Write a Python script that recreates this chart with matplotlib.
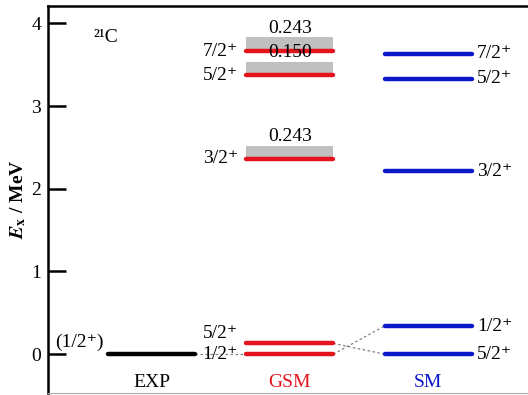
import matplotlib.pyplot as plt
from matplotlib.patches import Rectangle

plt.rcParams["font.family"] = ["Liberation Serif", "DejaVu Serif"]
plt.rcParams["mathtext.fontset"] = "stix"

# ==========================
# Dados (MeV)
# ==========================
columns = ["EXP", "GSM", "SM"]
column_colors = ["black", "#e3141b", "#0a18c8"]

exp_levels = [0.0]
exp_labels = ["(1/2⁺)"]

gsm_levels = [0.0, 0.13, 2.36, 3.37, 3.66]
gsm_labels = ["1/2⁺", "5/2⁺", "3/2⁺", "5/2⁺", "7/2⁺"]
gsm_widths = [None, None, 0.243, 0.150, 0.243]
gsm_band = [0.0, 0.0, 0.16, 0.16, 0.17]

sm_levels = [0.0, 0.34, 2.21, 3.33, 3.63]
sm_labels = ["5/2⁺", "1/2⁺", "3/2⁺", "5/2⁺", "7/2⁺"]

# ligações entre estados (coluna, índice) -> (coluna, índice)
links = [((0, 0), (1, 0)), ((1, 0), (2, 1)), ((1, 1), (2, 0))]

half = 0.315
fs = 14


def main():
    fig = plt.figure(figsize=(5.28, 3.95), dpi=100)
    ax = fig.add_axes([0.091, 0.005, 0.909, 0.98])

    levels = [exp_levels, gsm_levels, sm_levels]

    # bandas de largura (GSM)
    for e, w, h in zip(gsm_levels, gsm_widths, gsm_band):
        if w is None:
            continue
        ax.add_patch(Rectangle((1 - half, e), 2 * half, h, color="#c0c0c0", lw=0, zorder=1))
        ax.text(1, e + h + 0.01, f"{w:.3f}", ha="center", va="bottom", fontsize=fs, zorder=4)

    # níveis
    for i, lev in enumerate(levels):
        for e in lev:
            ax.plot([i - half, i + half], [e, e], color=column_colors[i], lw=3.2,
                    solid_capstyle="round", zorder=3)
        ax.text(i, -0.34, columns[i], ha="center", va="center", fontsize=fs,
                color=column_colors[i])

    # linhas pontilhadas
    for (c1, k1), (c2, k2) in links:
        ax.plot([c1 + half, c2 - half], [levels[c1][k1], levels[c2][k2]],
                color="#808080", ls=(0, (2, 2)), lw=0.9, zorder=2)

    # rótulos
    ax.text(-half - 0.03, exp_levels[0] + 0.14, exp_labels[0], ha="right", va="center", fontsize=fs)
    for k, (e, lab) in enumerate(zip(gsm_levels, gsm_labels)):
        y = e + 0.12 if k == 1 else e
        ax.text(1 - half - 0.06, y, lab, ha="right", va="center", fontsize=fs)
    for e, lab in zip(sm_levels, sm_labels):
        ax.text(2 + half + 0.04, e, lab, ha="left", va="center", fontsize=fs)

    ax.text(-0.42, 3.83, "²¹C", ha="left", va="center", fontsize=fs)

    ax.set_xlim(-0.747, 2.722)
    ax.set_ylim(-0.47, 4.21)
    ax.set_xticks([])
    ax.set_yticks([0, 1, 2, 3, 4])
    ax.tick_params(axis="y", direction="in", length=13, width=1.8, labelsize=fs, pad=5)
    ax.spines["right"].set_visible(False)
    ax.spines["left"].set_linewidth(1.8)
    ax.spines["top"].set_linewidth(1.8)
    ax.spines["bottom"].set_linewidth(0.8)
    ax.spines["bottom"].set_color("#aaaaaa")
    ax.set_ylabel(r"$\mathbfit{E}_{\mathbf{x}}$ / MeV", fontsize=fs, fontweight="bold", labelpad=2)

    fig.savefig("out.png", dpi=100)


if __name__ == "__main__":
    main()
